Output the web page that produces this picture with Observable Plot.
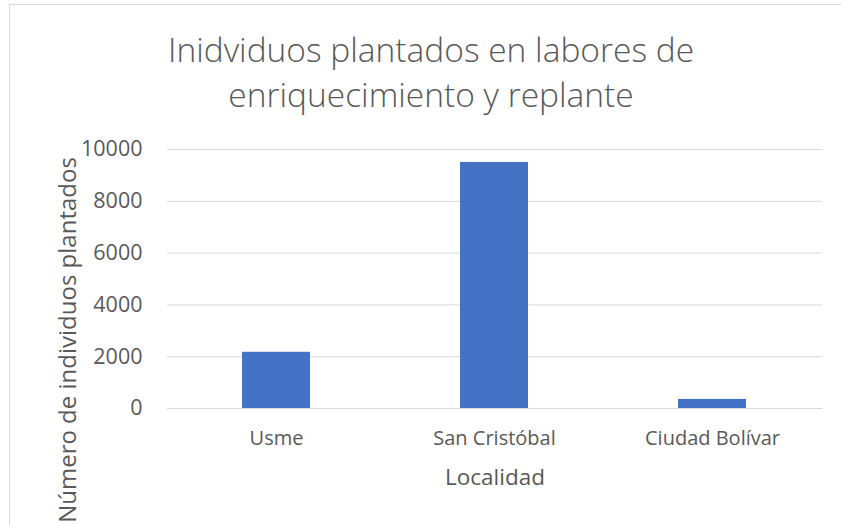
<!DOCTYPE html>
<html>
<head>
<meta charset="utf-8">
<script src="https://cdn.jsdelivr.net/npm/d3@7"></script>
<script src="https://cdn.jsdelivr.net/npm/@observablehq/plot@0.6"></script>
<style>
  html, body { margin: 0; padding: 0; background: #fff; }
  #wrap { position: relative; width: 841px; height: 525px; overflow: hidden; font-family: "Open Sans", sans-serif; color: #595959; }
  #frame { position: absolute; left: 9px; top: 4px; width: 900px; height: 600px; border: 1px solid #d9d9d9; box-sizing: border-box; }
  #title { position: absolute; left: 0; top: 0; width: 862px; height: 130px; text-align: center; font-size: 33.5px; font-weight: 300; line-height: 45px; padding-top: 27px; box-sizing: border-box; color: #595959; }
  #chart { position: absolute; left: 0; top: 130px; }
  #ylabel { position: absolute; left: 66px; top: 340px; transform: translate(-50%, -50%) rotate(-90deg); white-space: nowrap; font-size: 24px; color: #595959; }
</style>
</head>
<body>
<div id="wrap">
  <div id="frame"></div>
  <div id="title">Inidviduos plantados en labores de<br>enriquecimiento y replante</div>
  <div id="chart"></div>
  <div id="ylabel">Número de individuos plantados</div>
</div>
<script>
const localidades = ["Usme", "San Cristóbal", "Ciudad Bolívar"];
const individuos = [2170, 9500, 350];
const yTicks = [0, 2000, 4000, 6000, 8000, 10000];
const xLabel = "Localidad";

const data = localidades.map((l, i) => ({localidad: l, valor: individuos[i]}));

const chart = Plot.plot({
  width: 841,
  height: 395,
  marginTop: 19,
  marginBottom: 117,
  marginLeft: 167,
  marginRight: 19,
  style: {fontFamily: "Open Sans, sans-serif", fontSize: "20px", color: "#595959", background: "transparent", overflow: "visible"},
  x: {domain: localidades, padding: 0.687, paddingOuter: 0.3435, label: null},
  y: {domain: [0, 10000], label: null},
  marks: [
    Plot.gridY(yTicks, {stroke: "#d9d9d9", strokeOpacity: 1, strokeWidth: 1}),
    Plot.barY(data, {x: "localidad", y: "valor", fill: "#4472C4"}),
    Plot.ruleY([0], {stroke: "#d9d9d9", strokeWidth: 1}),
    Plot.axisY(yTicks, {tickSize: 0, tickPadding: 25, label: null, fill: "#595959", fontSize: 21.5, tickFormat: d => String(d)}),
    Plot.axisX({tickSize: 0, tickPadding: 22, label: null, fill: "#595959"}),
    Plot.axisX({ticks: [], tickSize: 0, label: xLabel, labelAnchor: "center", labelOffset: 76, labelArrow: "none", fill: "#595959", fontSize: 22.5})
  ]
});
document.getElementById("chart").appendChild(chart);
</script>
</body>
</html>
